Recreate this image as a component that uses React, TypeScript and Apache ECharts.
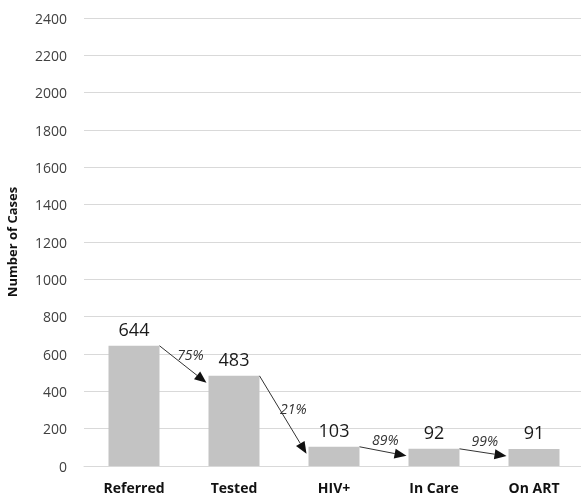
import React, { useEffect, useRef } from "react";
import * as echarts from "echarts";

const categories = ["Referred", "Tested", "HIV+", "In Care", "On ART"];
const cases = [644, 483, 103, 92, 91];
const transitionPct = ["75%", "21%", "89%", "99%"];
const yTicks = { min: 0, max: 2400, interval: 200 };

const FONT = "'Open Sans', 'Noto Sans', sans-serif";
const BAR_FRAC = 0.51;

export default function App() {
  const ref = useRef<HTMLDivElement>(null);
  useEffect(() => {
    const chart = echarts.init(ref.current!, undefined, { renderer: "svg" });
    const arrowData = transitionPct.map((p, i) => [i, cases[i], cases[i + 1], p]);
    chart.setOption({
      animation: false,
      grid: { left: 84, top: 18, width: 500, bottom: 38, outerBoundsMode: "none", containLabel: false },
      xAxis: {
        type: "category",
        data: categories,
        axisTick: { show: false },
        axisLine: { lineStyle: { color: "#d9d9d9" } },
        axisLabel: { color: "#111", fontFamily: FONT, fontWeight: "bold", fontSize: 14, margin: 14 },
      },
      yAxis: {
        type: "value",
        min: yTicks.min,
        max: yTicks.max,
        interval: yTicks.interval,
        name: "Number of Cases",
        nameLocation: "middle",
        nameGap: 66,
        nameTextStyle: { color: "#111", fontFamily: FONT, fontWeight: "bold", fontSize: 13 },
        axisLabel: {
          color: "#404040",
          fontFamily: FONT,
          fontSize: 14,
          margin: 17,
          formatter: (v: number) => String(v),
        },
        splitLine: { lineStyle: { color: "#d9d9d9" } },
        axisLine: { show: false },
        axisTick: { show: false },
      },
      series: [
        {
          type: "bar",
          data: cases,
          barWidth: "51%",
          itemStyle: { color: "#c3c3c3" },
          label: { show: true, position: "top", distance: 8, color: "#1a1a1a", fontFamily: FONT, fontSize: 18 },
        },
        {
          type: "custom",
          data: arrowData,
          z: 5,
          renderItem: (params: any, api: any) => {
            const i = api.value(0);
            const v0 = api.value(1);
            const v1 = api.value(2);
            const pct = transitionPct[i];
            const bw = api.size([1, 0])[0] * BAR_FRAC;
            const p0 = api.coord([i, v0]);
            const p1 = api.coord([i + 1, v1]);
            const x0 = p0[0] + bw / 2;
            const y0 = p0[1];
            const x1 = p1[0] - bw / 2 - 2;
            const y1 = p1[1] + 7;
            const dx = x1 - x0;
            const dy = y1 - y0;
            const len = Math.sqrt(dx * dx + dy * dy);
            const ux = dx / len;
            const uy = dy / len;
            const hl = 12;
            const hw = 5;
            const bx = x1 - ux * hl;
            const by = y1 - uy * hl;
            const nx = -uy;
            const ny = ux;
            const mx = (x0 + x1) / 2;
            const my = (y0 + y1) / 2;
            const lx = mx + uy * 12;
            const ly = my - ux * 12;
            return {
              type: "group",
              children: [
                {
                  type: "line",
                  shape: { x1: x0, y1: y0, x2: bx, y2: by },
                  style: { stroke: "#333", lineWidth: 1 },
                },
                {
                  type: "polygon",
                  shape: {
                    points: [
                      [x1, y1],
                      [bx + nx * hw, by + ny * hw],
                      [bx - nx * hw, by - ny * hw],
                    ],
                  },
                  style: { fill: "#111" },
                },
                {
                  type: "text",
                  x: lx,
                  y: ly,
                  style: {
                    text: pct,
                    fill: "#333",
                    font: `italic 14px ${FONT}`,
                    align: "center",
                    verticalAlign: "middle",
                  },
                },
              ],
            };
          },
        },
      ],
    });
    return () => chart.dispose();
  }, []);
  return <div ref={ref} style={{ position: "fixed", left: 0, top: 0, width: 581, height: 504 }} />;
}
